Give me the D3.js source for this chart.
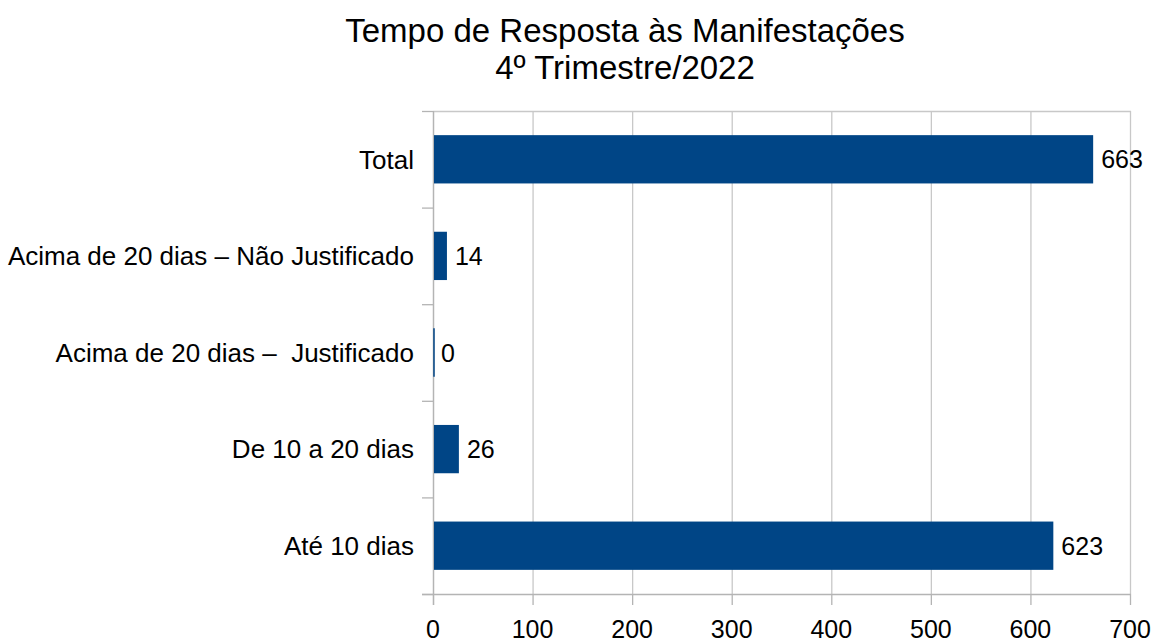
<!DOCTYPE html>
<html><head><meta charset="utf-8">
<script src="https://cdn.jsdelivr.net/npm/d3@7"></script>
<style>
body{margin:0;background:#fff;}
svg text{font-family:"Liberation Sans",Arial,sans-serif;fill:#000;white-space:pre;}
</style></head>
<body><svg id="c" width="1158" height="644"></svg>
<script>
const categories = ["Total","Acima de 20 dias – Não Justificado","Acima de 20 dias –  Justificado","De 10 a 20 dias","Até 10 dias"];
const values = [663,14,0,26,623];
const xTicks = [0,100,200,300,400,500,600,700];
const titleLines = ["Tempo de Resposta às Manifestações","4º Trimestre/2022"];

const svg = d3.select("#c");
const L=433, R=1130, T=111, B=594;
const x = d3.scaleLinear().domain([0,700]).range([L,R]);
const y = d3.scaleBand().domain(categories).range([T,B]).paddingInner(0.5).paddingOuter(0.25);
const yb = d3.scaleBand().domain(categories).range([T,B]);

// gridlines
svg.append("g").selectAll("line").data(xTicks).join("line")
 .attr("x1",d=>x(d)+0.5).attr("x2",d=>x(d)+0.5).attr("y1",T).attr("y2",B)
 .attr("stroke","#c8c8c8").attr("stroke-width",1.3);
// top border
svg.append("line").attr("x1",L).attr("x2",R+1).attr("y1",T+0.5).attr("y2",T+0.5).attr("stroke","#c8c8c8").attr("stroke-width",1.3);

// y axis ticks (band boundaries)
const bounds = categories.map(c=>yb(c)).concat([B]);
svg.append("g").selectAll("line").data(bounds).join("line")
 .attr("x1",L-11).attr("x2",L).attr("y1",d=>d+0.5).attr("y2",d=>d+0.5)
 .attr("stroke","#b4b4b4").attr("stroke-width",1.3);
// y axis line
svg.append("line").attr("x1",L+0.5).attr("x2",L+0.5).attr("y1",T).attr("y2",B+11).attr("stroke","#b4b4b4").attr("stroke-width",1.3);
// x axis line
svg.append("line").attr("x1",L-11).attr("x2",R+1).attr("y1",B+0.5).attr("y2",B+0.5).attr("stroke","#b4b4b4").attr("stroke-width",1.3);
// x ticks
svg.append("g").selectAll("line").data(xTicks).join("line")
 .attr("x1",d=>x(d)+0.5).attr("x2",d=>x(d)+0.5).attr("y1",B).attr("y2",B+11)
 .attr("stroke","#b4b4b4").attr("stroke-width",1.3);

// bars
svg.append("g").selectAll("rect").data(values).join("rect")
 .attr("x",x(0)+1).attr("y",(d,i)=>y(categories[i]))
 .attr("width",d=>Math.max(x(d)-x(0)-1,0)).attr("height",y.bandwidth())
 .attr("fill","#004586");
// zero-value marker line
svg.append("g").selectAll("line").data(values.map((v,i)=>[v,i]).filter(d=>d[0]===0)).join("line")
 .attr("x1",x(0)+1).attr("x2",x(0)+1).attr("y1",d=>y(categories[d[1]])).attr("y2",d=>y(categories[d[1]])+y.bandwidth())
 .attr("stroke","#004586").attr("stroke-width",1.5);

// value labels
svg.append("g").selectAll("text").data(values).join("text")
 .attr("x",d=>x(d)+8).attr("y",(d,i)=>y(categories[i])+y.bandwidth()/2)
 .attr("dy","0.36em").attr("font-size",25).text(d=>d);

// category labels
svg.append("g").selectAll("text").data(categories).join("text")
 .attr("x",414).attr("y",d=>yb(d)+yb.bandwidth()/2).attr("dy","0.36em")
 .attr("text-anchor","end").attr("font-size",26).text(d=>d);

// x tick labels
svg.append("g").selectAll("text").data(xTicks).join("text")
 .attr("x",d=>x(d)).attr("y",638).attr("text-anchor","middle").attr("font-size",25).text(d=>d);

// title
svg.append("g").selectAll("text").data(titleLines).join("text")
 .attr("x",625).attr("y",(d,i)=>42+i*37).attr("text-anchor","middle").attr("font-size",33).text(d=>d);
</script></body></html>
